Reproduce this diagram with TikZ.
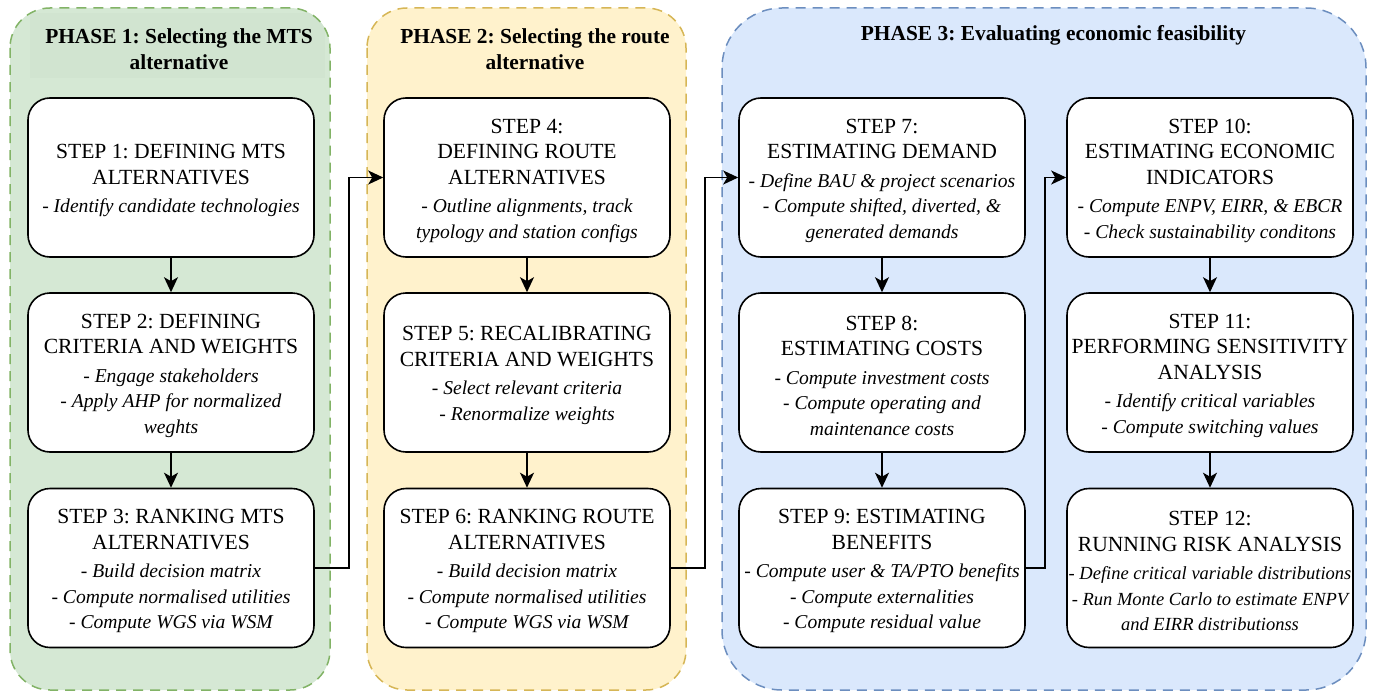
\documentclass[tikz,border=0pt]{standalone}
\usepackage{fontspec}
\setmainfont{Liberation Serif}
\usetikzlibrary{arrows.meta}
\definecolor{gfill}{HTML}{D5E8D4}
\definecolor{gline}{HTML}{82B366}
\definecolor{gband}{HTML}{D1E4D0}
\definecolor{yfill}{HTML}{FFF2CC}
\definecolor{yline}{HTML}{D6B656}
\definecolor{bfill}{HTML}{DAE8FC}
\definecolor{bline}{HTML}{6C8EBF}
\frenchspacing
\newcommand\subtxt[1]{{\itshape\fontsize{19.6}{25.5}\selectfont #1}}
\newcommand\subsmall[1]{{\itshape\fontsize{18.5}{25.5}\selectfont #1}}
\tikzset{
  phasebox/.style={line width=1.5pt, dash pattern=on 10pt off 7pt},
  stepbox/.style={draw, line width=1.6pt, rounded corners=22pt, fill=white,
    minimum width=286pt, minimum height=159pt, inner sep=0pt},
  steptext/.style={align=center, inner sep=0pt,
    font=\rmfamily\fontsize{21.6}{25.5}\selectfont},
  flow/.style={line width=1.5pt, -{Stealth[length=15pt,width=14pt,inset=4pt]}},
  phasetitle/.style={font=\rmfamily\bfseries\fontsize{21.4}{26}\selectfont, align=center, inner sep=0pt}
}
\newcommand\stepat[3]{\node[stepbox] (#1) at (#2) {};
  \node[steptext] (#1t) at ([yshift=-3pt]#1.center) {#3};}
\begin{document}
\begin{tikzpicture}[x=1pt,y=-1pt]
\useasboundingbox (0,0) rectangle (1376,693);
% phase containers
\fill[gfill, rounded corners=40pt] (10,8) rectangle (330,690);
\begin{scope}
  \clip[rounded corners=40pt] (10,8) rectangle (330,690);
  \fill[gband] (30,13) rectangle (325,78);
\end{scope}
\draw[phasebox, draw=gline, rounded corners=40pt] (10,8) rectangle (330,690);
\draw[phasebox, fill=yfill, draw=yline, rounded corners=40pt] (367,8) rectangle (686,690);
\draw[phasebox, fill=bfill, draw=bline, rounded corners=60pt] (722,8) rectangle (1366,690);
% titles
\node[phasetitle] (t1) at (179,49) {PHASE 1: Selecting the MTS\\alternative};
\node[phasetitle] (t2) at (535,49) {PHASE 2: Selecting the route\\alternative};
\node[phasetitle] (t3) at (1053.5,35) {PHASE 3: Evaluating economic feasibility};
% steps
\stepat{s1}{171,177.5}{STEP 1: DEFINING MTS\\ALTERNATIVES\\[3pt]\subtxt{- Identify candidate technologies}}
\stepat{s2}{171,372.5}{STEP 2: DEFINING\\CRITERIA AND WEIGHTS\\[3pt]\subtxt{- Engage stakeholders}\\\subtxt{- Apply AHP for normalized}\\\subtxt{weghts}}
\stepat{s3}{171,568}{STEP 3: RANKING MTS\\ALTERNATIVES\\[3pt]\subtxt{- Build decision matrix}\\\subtxt{- Compute normalised utilities}\\\subtxt{- Compute WGS via WSM}}
\stepat{s4}{527,177.5}{STEP 4:\\DEFINING ROUTE\\ALTERNATIVES\\[3pt]\subtxt{- Outline alignments, track}\\\subtxt{typology and station configs}}
\stepat{s5}{527,372.5}{STEP 5: RECALIBRATING\\CRITERIA AND WEIGHTS\\[3pt]\subtxt{- Select relevant criteria}\\\subtxt{- Renormalize weights}}
\stepat{s6}{527,568}{STEP 6: RANKING ROUTE\\ALTERNATIVES\\[3pt]\subtxt{- Build decision matrix}\\\subtxt{- Compute normalised utilities}\\\subtxt{- Compute WGS via WSM}}
\stepat{s7}{882,177.5}{STEP 7:\\ESTIMATING DEMAND\\[3pt]\subtxt{- Define BAU \& project scenarios}\\\subtxt{- Compute shifted, diverted, \&}\\\subtxt{generated demands}}
\stepat{s8}{882,372.5}{STEP 8:\\ESTIMATING COSTS\\[3pt]\subtxt{- Compute investment costs}\\\subtxt{- Compute operating and}\\\subtxt{maintenance costs}}
\stepat{s9}{882,568}{STEP 9: ESTIMATING\\BENEFITS\\[3pt]\subtxt{- Compute user \& TA/PTO benefits}\\\subtxt{- Compute externalities}\\\subtxt{- Compute residual value}}
\stepat{s10}{1210,177.5}{STEP 10:\\ESTIMATING ECONOMIC\\INDICATORS\\[3pt]\subtxt{- Compute ENPV, EIRR, \& EBCR}\\\subtxt{- Check sustainability conditons}}
\stepat{s11}{1210,372.5}{STEP 11:\\PERFORMING SENSITIVITY\\ANALYSIS\\[3pt]\subtxt{- Identify critical variables}\\\subtxt{- Compute switching values}}
\stepat{s12}{1210,568}{STEP 12:\\RUNNING RISK ANALYSIS\\[3pt]\subsmall{- Define critical variable distributions}\\\subsmall{- Run Monte Carlo to estimate ENPV}\\\subsmall{and EIRR distributionss}}
% connectors
\draw[flow] (s1) -- (s2);
\draw[flow] (s2) -- (s3);
\draw[flow] (s4) -- (s5);
\draw[flow] (s5) -- (s6);
\draw[flow] (s7) -- (s8);
\draw[flow] (s8) -- (s9);
\draw[flow] (s10) -- (s11);
\draw[flow] (s11) -- (s12);
\draw[flow] (s3.east) -- ++(34,0) |- (s4.west);
\draw[flow] (s6.east) -- ++(34,0) |- (s7.west);
\draw[flow] (s9.east) -- ++(19,0) |- (s10.west);
\end{tikzpicture}
\end{document}
